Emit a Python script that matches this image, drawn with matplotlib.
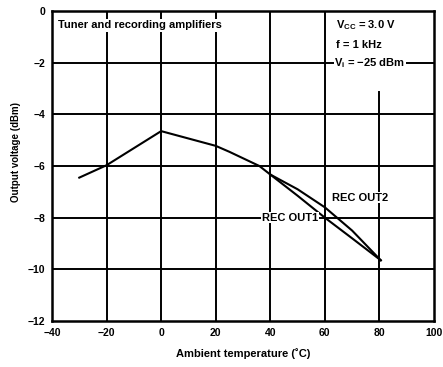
import matplotlib
matplotlib.use("Agg")
import matplotlib.pyplot as plt

plt.rcParams['font.family'] = ['Liberation Sans', 'DejaVu Sans']
plt.rcParams['font.weight'] = 'bold'
plt.rcParams['mathtext.fontset'] = 'custom'
plt.rcParams['mathtext.rm'] = 'Liberation Sans:bold'
plt.rcParams['mathtext.it'] = 'Liberation Sans:bold'
plt.rcParams['mathtext.bf'] = 'Liberation Sans:bold'
plt.rcParams['axes.unicode_minus'] = True

# Data
common_t = [-30, -20, 0, 20, 25, 30, 36, 40]
common_v = [-6.45, -5.97, -4.65, -5.22, -5.45, -5.7, -6.0, -6.33]
out2_t = [40, 50, 60, 70, 80.5]
out2_v = [-6.33, -6.9, -7.6, -8.5, -9.65]
out1_t = [40, 50, 60, 70, 80.5]
out1_v = [-6.33, -7.15, -8.0, -8.8, -9.65]

xticks = [-40, -20, 0, 20, 40, 60, 80, 100]
yticks = [0, -2, -4, -6, -8, -10, -12]

fig = plt.figure(figsize=(4.43, 3.67), dpi=100)
ax = fig.add_axes([52/443, 1-321/367, 382/443, 310/367])
ax.set_xlim(-40, 100)
ax.set_ylim(-12, 0)

lw_grid = 1.4
for y in yticks[1:-1]:
    ax.axhline(y, color='black', lw=lw_grid, zorder=1)
for x in xticks[1:-1]:
    if x == 80:
        ax.axvline(x, ymin=0, ymax=(12-3.15)/12, color='black', lw=lw_grid, zorder=1)
    else:
        ax.axvline(x, color='black', lw=lw_grid, zorder=1)

ax.plot(common_t, common_v, color='black', lw=1.5, zorder=3)
ax.plot(out2_t, out2_v, color='black', lw=1.5, zorder=3)
ax.plot(out1_t, out1_v, color='black', lw=1.5, zorder=3)

for s in ax.spines.values():
    s.set_linewidth(1.8)

ax.set_xticks(xticks)
ax.set_yticks(yticks)
ax.set_xticklabels([str(v).replace('-', '\u2212') for v in xticks])
ax.set_yticklabels([str(v).replace('-', '\u2212') for v in yticks])
ax.tick_params(length=0, labelsize=7.5, pad=5)

ax.set_xlabel('Ambient temperature (\u02daC)', fontsize=8, fontweight='bold', labelpad=7)
ax.set_ylabel('Output voltage (dBm)', fontsize=7, fontweight='bold')
ax.yaxis.set_label_coords(-0.08, 0.545)

fs = 8
ax.text(-37.8, -0.55, 'Tuner and recording amplifiers', fontsize=fs,
        va='center', ha='left',
        bbox=dict(facecolor='white', edgecolor='none', pad=1.0), zorder=4)
ax.text(64, -0.55, r'V$_{\rm CC}$ = 3.0 V', fontsize=fs, va='center', ha='left', zorder=4)
ax.text(64, -1.32, 'f = 1 kHz', fontsize=fs, va='center', ha='left', zorder=4)
ax.text(63.5, -2.0, 'V$_{\\rm i}$ = \u221225 dBm', fontsize=fs, va='center', ha='left',
        bbox=dict(facecolor='white', edgecolor='none', pad=0.5), zorder=4)
ax.text(57.5, -8.0, 'REC OUT1', fontsize=fs, va='center', ha='right',
        bbox=dict(facecolor='white', edgecolor='none', pad=0.5), zorder=4)
ax.text(62.5, -7.22, 'REC OUT2', fontsize=fs, va='center', ha='left',
        bbox=dict(facecolor='white', edgecolor='none', pad=0.5), zorder=4)

fig.savefig('out.png', dpi=100)
